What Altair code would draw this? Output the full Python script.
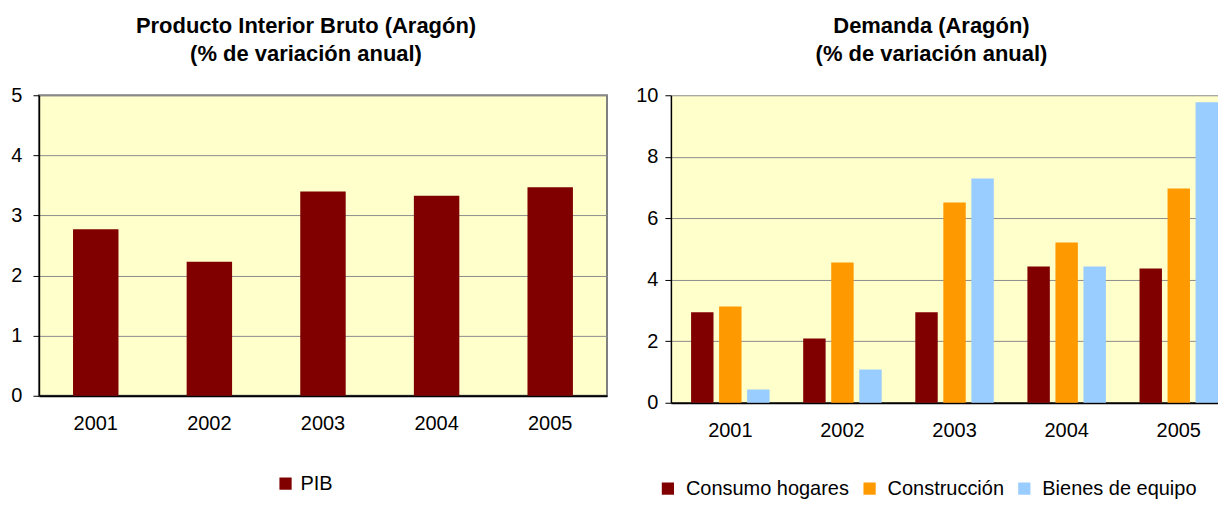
import altair as alt
import pandas as pd

years = ["2001", "2002", "2003", "2004", "2005"]
pib = [2.77, 2.23, 3.40, 3.33, 3.47]
series = ["Consumo hogares", "Construcción", "Bienes de equipo"]
consumo = [2.94, 2.09, 2.94, 4.43, 4.37]
construccion = [3.13, 4.56, 6.51, 5.21, 6.97]
bienes = [0.43, 1.08, 7.29, 4.43, 9.77]
colors = ["#800000", "#FF9900", "#99CCFF"]
left_ticks = [0, 1, 2, 3, 4, 5]
right_ticks = [0, 2, 4, 6, 8, 10]

df1 = pd.DataFrame({"year": years, "value": pib, "serie": ["PIB"] * len(years)})
df2 = pd.DataFrame({
    "year": years * 3,
    "value": consumo + construccion + bienes,
    "serie": [s for s in series for _ in years],
})

FONT = "Liberation Sans"
BG = "#FFFFCC"
GRID = "#8C8C8C"


def x_axis():
    return alt.Axis(labelAngle=0, ticks=False, domain=True, domainColor="#000000",
                    domainWidth=2, labelPadding=18, labelFontSize=20,
                    labelFont=FONT, labelColor="#000000", grid=False)


def y_axis(vals, ext, pad):
    return alt.Axis(values=vals, grid=True, gridColor=GRID, gridWidth=1,
                    domainColor="#000000", domainWidth=1.5, tickColor="#000000",
                    tickSize=6, labelPadding=pad, labelFontSize=20, labelFont=FONT,
                    labelColor="#000000", minExtent=ext, maxExtent=ext)


def legend(x, y, off):
    return alt.Legend(title=None, orient="none", legendX=x, legendY=y,
                      direction="horizontal", symbolType="square",
                      symbolSize=150, symbolStrokeWidth=0, padding=0,
                      labelFontSize=20, labelFont=FONT, labelOffset=off,
                      labelLimit=400, columnPadding=10, labelColor="#000000")


left = alt.Chart(df1).mark_bar().encode(
    x=alt.X("year:N", title=None,
            scale=alt.Scale(paddingInner=0.6, paddingOuter=0.3), axis=x_axis()),
    y=alt.Y("value:Q", title=None, scale=alt.Scale(domain=[0, 5], nice=False),
            axis=y_axis(left_ticks, 30, 11)),
    color=alt.Color("serie:N", scale=alt.Scale(domain=["PIB"], range=[colors[0]]),
                    legend=legend(237, 379, 5)),
).properties(
    width=569, height=301,
    view=alt.ViewBackground(fill=BG, stroke="#808080", strokeWidth=2),
    title=alt.TitleParams(["Producto Interior Bruto (Aragón)", "(% de variación anual)"],
                          fontSize=22, font=FONT, fontWeight="bold", lineHeight=28,
                          anchor="middle", dx=-17, offset=19, color="#000000"),
)

right = alt.Chart(df2).mark_bar().encode(
    x=alt.X("year:N", title=None,
            scale=alt.Scale(paddingInner=0.3, paddingOuter=0.09, align=1), axis=x_axis()),
    xOffset=alt.XOffset("serie:N", sort=series, scale=alt.Scale(paddingInner=0.2)),
    y=alt.Y("value:Q", title=None, scale=alt.Scale(domain=[0, 10], nice=False),
            axis=y_axis(right_ticks, 36, 7)),
    color=alt.Color("serie:N", sort=series,
                    scale=alt.Scale(domain=series, range=colors),
                    legend=legend(-13, 384, 8)),
).properties(
    width=548, height=308,
    view=alt.ViewBackground(fill=BG, stroke=None),
    title=alt.TitleParams(["Demanda (Aragón)", "(% de variación anual)"],
                          fontSize=22, font=FONT, fontWeight="bold", lineHeight=28,
                          anchor="middle", dx=-13, offset=19, color="#000000"),
)

chart = alt.hconcat(left, right, spacing=27).resolve_scale(
    color="independent"
).resolve_legend(color="independent").properties(
    padding={"top": 6, "left": 0, "right": 0, "bottom": 0}
).configure(background="#FFFFFF")

chart.save("out.html", embed_options={"renderer": "svg", "actions": False})
